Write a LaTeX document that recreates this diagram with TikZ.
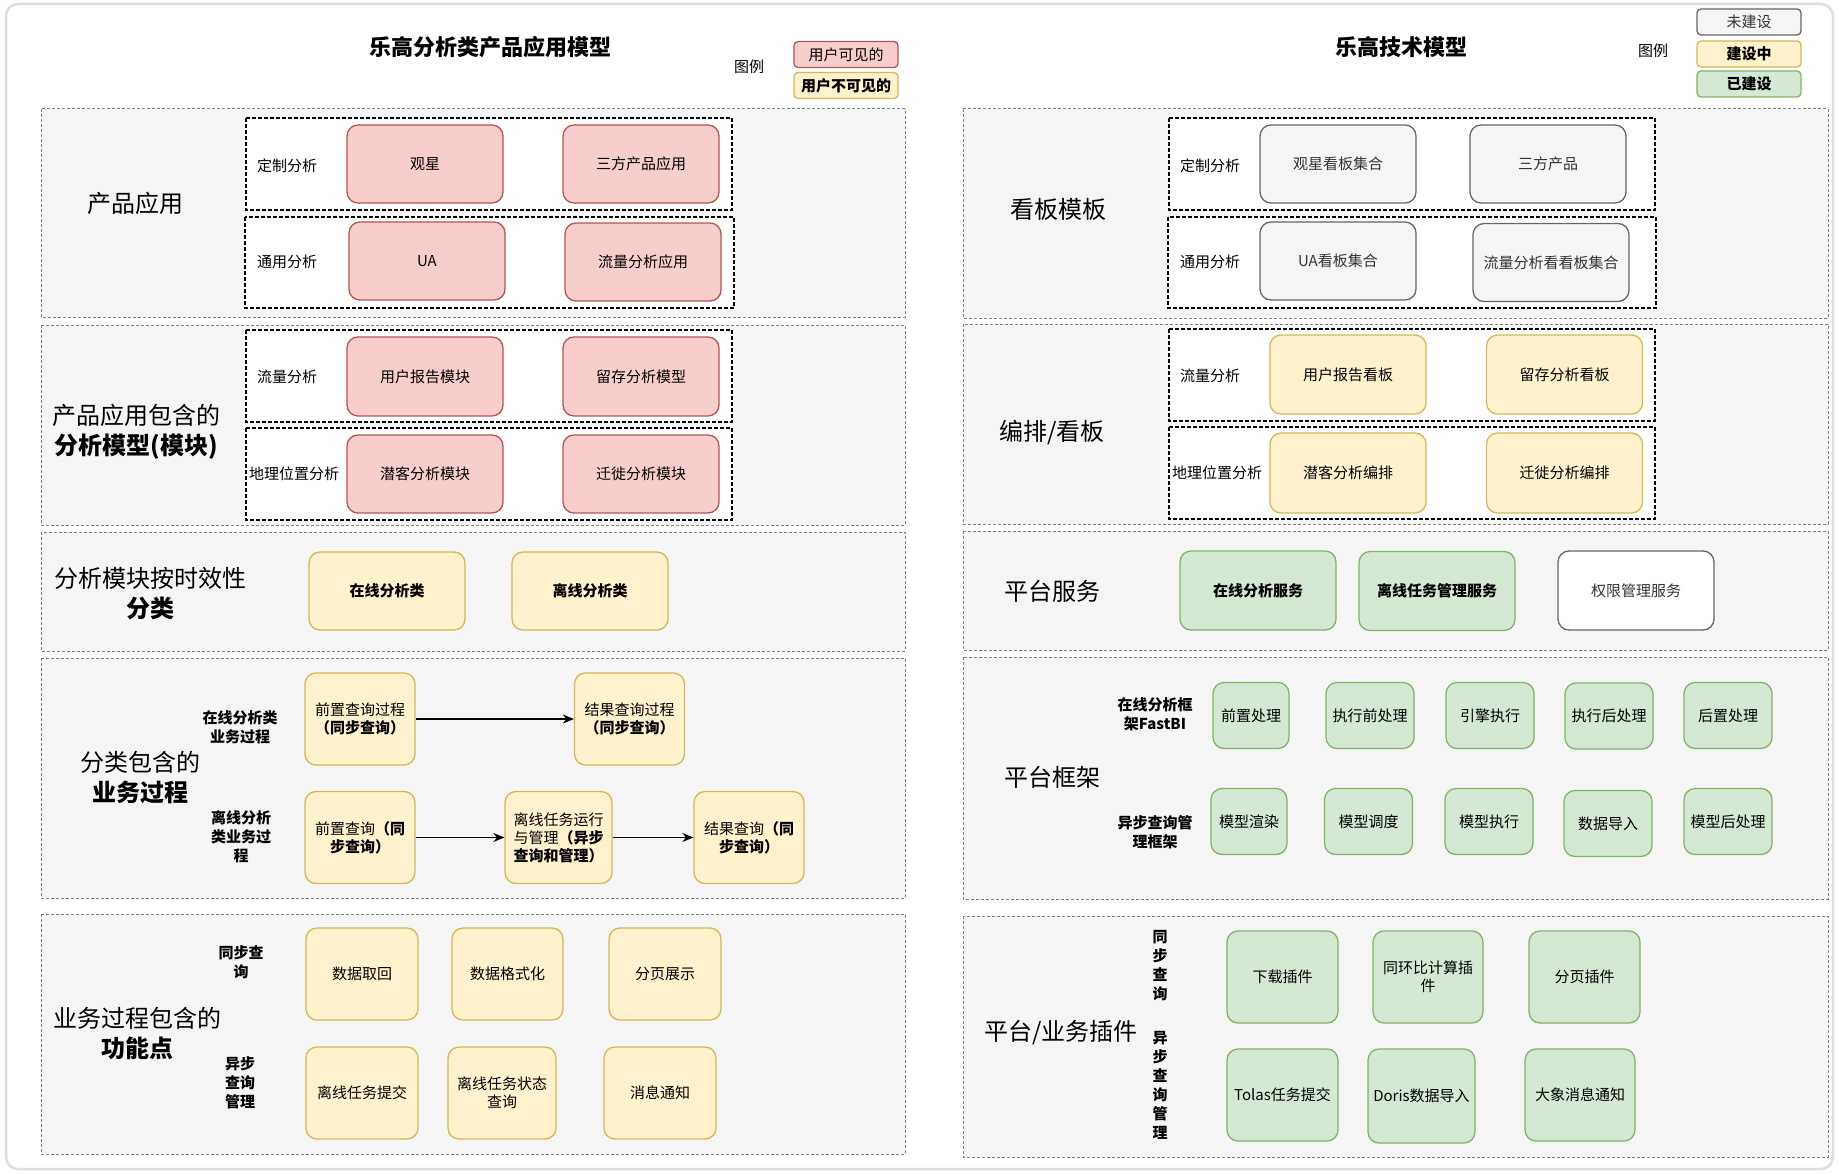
\documentclass[tikz,border=0pt]{standalone}
\usepackage{fontspec}
\setmainfont{Noto Sans CJK SC}
\usetikzlibrary{arrows.meta,positioning}
\definecolor{secfill}{HTML}{F5F5F5}
\definecolor{secline}{HTML}{808080}
\definecolor{redfill}{HTML}{F8CECC}
\definecolor{redline}{HTML}{B85450}
\definecolor{ylwfill}{HTML}{FFF2CC}
\definecolor{ylwline}{HTML}{D6B656}
\definecolor{grnfill}{HTML}{D5E8D4}
\definecolor{grnline}{HTML}{82B366}
\definecolor{gryline}{HTML}{666666}
\definecolor{frameline}{HTML}{DCDFE5}
\tikzset{
  sect/.style={draw=secline,fill=secfill,line width=1pt,dash pattern=on 3pt off 2pt},
  grp/.style={draw=black,fill=white,line width=1.2pt,dash pattern=on 4pt off 2pt},
  box/.style={rounded corners=11pt,line width=1.3pt,align=center,inner sep=2pt,
    minimum width=156pt,minimum height=78pt,font=\fontsize{15}{18}\selectfont},
  redbox/.style={box,fill=redfill,draw=redline},
  ylwbox/.style={box,fill=ylwfill,draw=ylwline},
  grnbox/.style={box,fill=grnfill,draw=grnline},
  grybox/.style={box,fill=secfill,draw=gryline,text=black!80},
  whtbox/.style={box,fill=white,draw=gryline,text=black!80},
  pbox/.style={minimum width=110pt,minimum height=92pt},
  fbox/.style={minimum width=88pt,minimum height=66pt},
  lgd/.style={rounded corners=4pt,minimum width=104pt,minimum height=26pt,inner sep=1pt},
  lbl/.style={align=center,font=\fontsize{15}{19}\selectfont},
  blbl/.style={align=center,font=\fontsize{15}{19}\selectfont\bfseries},
  big/.style={align=center,font=\fontsize{24}{30}\selectfont},
  ttl/.style={font=\fontsize{22}{26}\selectfont\bfseries},
  flow/.style={line width=1.3pt,-{Stealth[length=11pt,width=9pt]}},
}

\begin{document}
\begin{tikzpicture}[x=1pt,y=-1pt]
  \useasboundingbox (0,0) rectangle (1838,1174); % 画像全体の大きさ
  \fill[white] (0,0) rectangle (1838,1174); % 白い背景
  \draw[frameline,line width=2.5pt,rounded corners=12pt] (6,4) rectangle (1833,1169); % 外枠

  % ---- 左：乐高分析类产品应用模型 ----
  \node[ttl] (ltitle) at (490,47) {乐高分析类产品应用模型}; % 左側のタイトル
  \node[lbl] (llgd) at (749,67) {图例}; % 凡例の見出し
  \node[redbox,lgd] (lgdred) at (846,54.5) {用户可见的}; % 凡例（赤）
  \node[ylwbox,lgd,font=\fontsize{15}{18}\selectfont\bfseries] (lgdylw) at (846,85.5) {用户不可见的}; % 凡例（黄）

  \draw[sect] (41,109) rectangle (905,317); % 产品应用の区画
  \draw[grp] (246,118) rectangle (732,210); % 定制分析のグループ
  \draw[grp] (245,217) rectangle (734,308); % 通用分析のグループ
  \node[big] (sec1) at (135,203) {产品应用};
  \node[lbl] (dz1) at (287,166) {定制分析};
  \node[lbl] (ty1) at (287,262) {通用分析};
  \node[redbox] (gx) at (425,164) {观星};
  \node[redbox] (sfyy) at (641,164) {三方产品应用};
  \node[redbox] (ua) at (427,261) {UA};
  \node[redbox] (llyy) at (643,262) {流量分析应用};

  \draw[sect] (41,325) rectangle (905,525); % 分析模型の区画
  \draw[grp] (246,330) rectangle (732,422); % 流量分析のグループ
  \draw[grp] (246,428) rectangle (732,520); % 地理位置分析のグループ
  \node[big] (sec2) at (136,432) {产品应用包含的\\\textbf{分析模型(模块)}};
  \node[lbl] (ll1) at (287,377) {流量分析};
  \node[lbl] (dl1) at (294,474) {地理位置分析};
  \node[redbox,minimum height=79pt] (yhbg) at (425,376.5) {用户报告模块};
  \node[redbox,minimum height=79pt] (lcfx) at (641,376.5) {留存分析模型};
  \node[redbox] (qkfx) at (425,474) {潜客分析模块};
  \node[redbox] (qxfx) at (641,474) {迁徙分析模块};

  \draw[sect] (41,532) rectangle (905,651); % 时效性分类の区画
  \node[big] (sec3) at (150,594) {分析模块按时效性\\\textbf{分类}};
  \node[ylwbox,font=\fontsize{15}{18}\selectfont\bfseries] (zxl) at (387,591) {在线分析类};
  \node[ylwbox,font=\fontsize{15}{18}\selectfont\bfseries] (lxl) at (590,591) {离线分析类};

  \draw[sect] (41,658) rectangle (905,898); % 业务过程の区画
  \node[big] (sec4) at (140,778) {分类包含的\\\textbf{业务过程}};
  \node[blbl] (zxgc) at (240,727) {在线分析类\\业务过程};
  \node[blbl] (lxgc) at (241,837) {离线分析\\类业务过\\程};
  \node[ylwbox,pbox] (pre1) at (360,719) {前置查询过程\\\textbf{（同步查询）}};
  \node[ylwbox,pbox] (res1) at (629.5,719) {结果查询过程\\\textbf{（同步查询）}};
  \node[ylwbox,pbox] (pre2) at (360,837.5) {前置查询\textbf{（同}\\\textbf{步查询）}};
  \node[ylwbox,pbox,minimum width=107pt] (offrun) at (558.5,837.5) {离线任务运行\\与管理\textbf{（异步}\\\textbf{查询和管理）}};
  \node[ylwbox,pbox] (res2) at (749,837.5) {结果查询\textbf{（同}\\\textbf{步查询）}};
  \draw[flow] (pre1) -- (res1); % 同期クエリの流れ
  \draw[flow] (pre2) -- (offrun); % 非同期処理へ
  \draw[flow] (offrun) -- (res2); % 結果取得へ

  \draw[sect] (41,914) rectangle (905,1154); % 功能点の区画
  \node[big] (sec5) at (137,1034) {业务过程包含的\\\textbf{功能点}};
  \node[blbl] (tbcx) at (241,962) {同步查\\询};
  \node[blbl] (ybcx) at (240,1083) {异步\\查询\\管理};
  \node[ylwbox,pbox,minimum width=112pt] (sjqh) at (362,974) {数据取回};
  \node[ylwbox,pbox,minimum width=111pt] (sjgs) at (507.5,974) {数据格式化};
  \node[ylwbox,pbox,minimum width=112pt] (fyzs) at (665,974) {分页展示};
  \node[ylwbox,pbox,minimum width=112pt] (lxtj) at (362,1093) {离线任务提交};
  \node[ylwbox,pbox,minimum width=108pt] (lxzt) at (502,1093) {离线任务状态\\查询};
  \node[ylwbox,pbox,minimum width=112pt] (xxtz) at (660,1093) {消息通知};

  % ---- 右：乐高技术模型 ----
  \node[ttl] (rtitle) at (1401,47) {乐高技术模型}; % 右側のタイトル
  \node[lbl] (rlgd) at (1653,51) {图例};
  \node[grybox,lgd] (lgdgry) at (1749,22) {未建设}; % 凡例（灰）
  \node[ylwbox,lgd,font=\fontsize{15}{18}\selectfont\bfseries] (lgdylw2) at (1749,54) {建设中}; % 凡例（黄）
  \node[grnbox,lgd,font=\fontsize{15}{18}\selectfont\bfseries] (lgdgrn) at (1749,84) {已建设}; % 凡例（緑）

  \draw[sect] (963,109) rectangle (1828,318); % 看板模板の区画
  \draw[grp] (1169,118) rectangle (1655,210);
  \draw[grp] (1168,217) rectangle (1656,308);
  \node[big] (rsec1) at (1058,209) {看板模板};
  \node[lbl] (dz2) at (1210,166) {定制分析};
  \node[lbl] (ty2) at (1210,262) {通用分析};
  \node[grybox] (gxkb) at (1338,164) {观星看板集合};
  \node[grybox] (sfcp) at (1548,164) {三方产品};
  \node[grybox] (uakb) at (1338,261) {UA看板集合};
  \node[grybox] (llkb) at (1551,262.5) {流量分析看看板集合};

  \draw[sect] (963,324) rectangle (1828,524); % 编排/看板の区画
  \draw[grp] (1169,329) rectangle (1655,421);
  \draw[grp] (1169,427) rectangle (1655,519);
  \node[big] (rsec2) at (1052,432) {编排/看板};
  \node[lbl] (ll2) at (1210,376) {流量分析};
  \node[lbl] (dl2) at (1217,473) {地理位置分析};
  \node[ylwbox,minimum height=79pt] (yhkb) at (1348,374.5) {用户报告看板};
  \node[ylwbox,minimum height=79pt] (lckb) at (1564.5,374.5) {留存分析看板};
  \node[ylwbox,minimum height=80pt] (qkbp) at (1348,473) {潜客分析编排};
  \node[ylwbox,minimum height=80pt] (qxbp) at (1564.5,473) {迁徙分析编排};

  \draw[sect] (963,531) rectangle (1828,650); % 平台服务の区画
  \node[big] (rsec3) at (1052,591) {平台服务};
  \node[grnbox,minimum height=79pt,font=\fontsize{15}{18}\selectfont\bfseries] (zxfw) at (1258,590.5) {在线分析服务};
  \node[grnbox,minimum height=79pt,font=\fontsize{15}{18}\selectfont\bfseries] (lxfw) at (1437,591) {离线任务管理服务};
  \node[whtbox,minimum height=79pt] (qxgl) at (1636,590.5) {权限管理服务};

  \draw[sect] (963,657) rectangle (1828,899); % 平台框架の区画
  \node[big] (rsec4) at (1052,777) {平台框架};
  \node[blbl] (fastbi) at (1155,714) {在线分析框\\架FastBI};
  \node[blbl] (ybkj) at (1155,832) {异步查询管\\理框架};
  \node[grnbox,fbox,minimum width=76pt] (fw1) at (1251,715.5) {前置处理};
  \node[grnbox,fbox] (fw2) at (1370,715.5) {执行前处理};
  \node[grnbox,fbox] (fw3) at (1490,715.5) {引擎执行};
  \node[grnbox,fbox] (fw4) at (1609,716) {执行后处理};
  \node[grnbox,fbox] (fw5) at (1728,715.5) {后置处理};
  \node[grnbox,fbox,minimum width=76pt] (yb1) at (1249,821.5) {模型渲染};
  \node[grnbox,fbox] (yb2) at (1368.5,821.5) {模型调度};
  \node[grnbox,fbox] (yb3) at (1489,821.5) {模型执行};
  \node[grnbox,fbox] (yb4) at (1608,823.5) {数据导入};
  \node[grnbox,fbox] (yb5) at (1728,821.5) {模型后处理};

  \draw[sect] (963,916) rectangle (1828,1157); % 插件の区画
  \node[big] (rsec5) at (1061,1033) {平台/业务插件};
  \node[blbl] (tbcj) at (1160,965.5) {同\\步\\查\\询};
  \node[blbl] (ybcj) at (1160,1085) {异\\步\\查\\询\\管\\理};
  \node[grnbox,pbox,minimum width=111pt] (xzcj) at (1282.5,977) {下载插件};
  \node[grnbox,pbox,minimum width=110pt] (thb) at (1428,977) {同环比计算插\\件};
  \node[grnbox,pbox,minimum width=111pt] (fycj) at (1584.5,977) {分页插件};
  \node[grnbox,pbox,minimum width=111pt] (tolas) at (1282.5,1095) {Tolas任务提交};
  \node[grnbox,pbox,minimum width=107pt,minimum height=94pt] (doris) at (1421.5,1096) {Doris数据导入};
  \node[grnbox,pbox,minimum width=110pt] (dxtz) at (1580,1095) {大象消息通知};
\end{tikzpicture}
\end{document}
